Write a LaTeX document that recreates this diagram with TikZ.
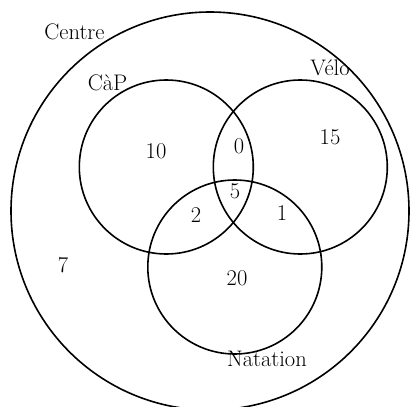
\documentclass[tikz,border=0pt]{standalone}
\begin{document}
\begin{tikzpicture}[x=1pt,y=-1pt,
  ring/.style={draw,line width=1.6pt},
  lab/.style={font=\fontsize{22.5}{26}\selectfont,inner sep=0pt}]
\useasboundingbox (0,0) rectangle (410,407);
\begin{scope}
\clip (0,0) rectangle (410,407);
\draw[ring] (210,211) circle[radius=199];
\draw[ring] (166.3,167) circle[radius=87];
\draw[ring] (300.3,167) circle[radius=87];
\draw[ring] (234.8,267) circle[radius=87];
\end{scope}
\node[lab] (centre) at (74.5,32) {Centre};
\node[lab] (cap) at (107.5,83) {CàP};
\node[lab] (velo) at (330,68) {Vélo};
\node[lab] (natation) at (267,359) {Natation};
\node[lab] (n10) at (156,151) {10};
\node[lab] (n0) at (239,146) {0};
\node[lab] (n15) at (330,137) {15};
\node[lab] (n5) at (235,191) {5};
\node[lab] (n2) at (196,215) {2};
\node[lab] (n1) at (282,213) {1};
\node[lab] (n7) at (63,265) {7};
\node[lab] (n20) at (237,278) {20};
\end{tikzpicture}
\end{document}
